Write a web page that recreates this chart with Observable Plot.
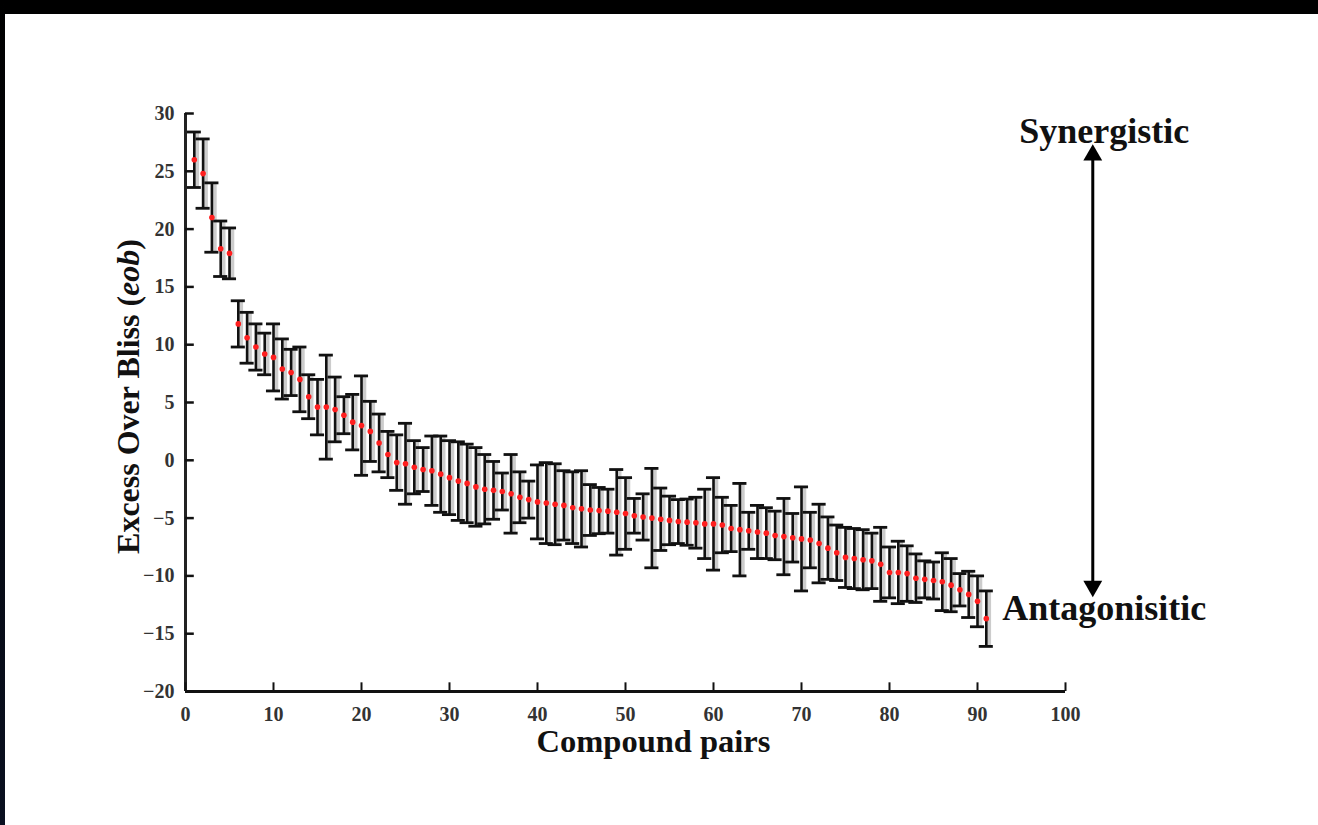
<!DOCTYPE html>
<html>
<head>
<meta charset="utf-8">
<script src="https://cdn.jsdelivr.net/npm/d3@7"></script>
<script src="https://cdn.jsdelivr.net/npm/@observablehq/plot@0.6"></script>
<style>
  html, body { margin: 0; padding: 0; background: #fff; }
  #wrap { position: relative; width: 1318px; height: 825px; overflow: hidden; background: #fff; }
  #topband { position: absolute; left: 0; top: 0; width: 1318px; height: 14px; background: #000; }
  #leftband { position: absolute; left: 0; top: 0; width: 5px; height: 825px; background: linear-gradient(#000, #0a1020); }
  #chart { position: absolute; left: 0; top: 0; }
</style>
</head>
<body>
<div id="wrap">
  <div id="chart"></div>
  <div id="topband"></div>
  <div id="leftband"></div>
</div>
<script>
// Compound pair index 1..91
const pairs = d3.range(1, 92);
// Mean excess over Bliss (eob) per pair
const eob = [26.0, 24.8, 21.0, 18.3, 17.9, 11.8, 10.6, 9.8, 9.2, 8.9,
  7.9, 7.6, 7.0, 5.5, 4.6, 4.6, 4.4, 3.9, 3.3, 3.0,
  2.5, 1.5, 0.5, -0.2, -0.3, -0.6, -0.8, -0.9, -1.2, -1.5,
  -1.8, -2.0, -2.3, -2.5, -2.6, -2.7, -2.9, -3.2, -3.4, -3.6,
  -3.7, -3.8, -3.9, -4.1, -4.2, -4.3, -4.35, -4.4, -4.5, -4.6,
  -4.8, -4.9, -5.0, -5.1, -5.2, -5.3, -5.35, -5.4, -5.5, -5.5,
  -5.6, -5.9, -6.0, -6.1, -6.2, -6.3, -6.5, -6.6, -6.7, -6.8,
  -6.9, -7.2, -7.6, -8.0, -8.4, -8.5, -8.6, -8.7, -9.0, -9.7,
  -9.7, -9.8, -10.2, -10.3, -10.4, -10.5, -10.8, -11.2, -11.6, -12.2,
  -13.7];
// Error (half-height of error bar)
const err = [2.4, 3.0, 3.0, 2.4, 2.2, 2.0, 2.2, 2.0, 1.8, 2.9,
  2.6, 2.0, 2.8, 1.9, 2.4, 4.5, 2.8, 1.6, 2.4, 4.3,
  2.6, 2.5, 2.0, 2.4, 3.5, 2.3, 1.9, 3.0, 3.3, 3.2,
  3.4, 3.4, 3.4, 3.0, 2.5, 1.6, 3.4, 2.2, 1.6, 3.2,
  3.5, 3.5, 3.0, 3.1, 3.3, 2.2, 2.0, 1.9, 3.7, 3.1,
  1.5, 2.0, 4.3, 2.7, 2.1, 1.9, 2.0, 2.2, 3.0, 4.0,
  2.4, 2.0, 4.0, 1.6, 2.3, 2.2, 2.1, 3.3, 2.1, 4.5,
  2.4, 3.4, 2.7, 2.4, 2.6, 2.6, 2.6, 2.4, 3.2, 2.2,
  2.7, 2.4, 2.1, 1.6, 1.6, 2.5, 2.3, 1.4, 2.0, 2.2,
  2.4];
const xTicks = [0, 10, 20, 30, 40, 50, 60, 70, 80, 90, 100];
const yTicks = [30, 25, 20, 15, 10, 5, 0, -5, -10, -15, -20];
const xLabel = "Compound pairs";
const yLabel = "Excess Over Bliss (eob)";
const topNote = "Synergistic";
const bottomNote = "Antagonisitic";

const data = pairs.map((p, i) => ({p, m: eob[i], lo: eob[i] - err[i], hi: eob[i] + err[i]}));

const serif = "'Liberation Serif', 'Times New Roman', serif";
const cap = 0.8;          // half cap width, in pair units
const arrowX = 103.1;
const arrowTop = 26.4, arrowBottom = -10.9;

const chart = Plot.plot({
  width: 1318,
  height: 825,
  marginLeft: 185,
  marginRight: 253,
  marginTop: 113,
  marginBottom: 134,
  style: {background: "#fff", fontFamily: serif},
  x: {type: "linear", domain: [0, 100], axis: null},
  y: {type: "linear", domain: [-20, 30], axis: null},
  marks: [
    // light gray band beside each error bar
    Plot.rect(data, {x1: d => d.p, x2: d => d.p + 0.6, y1: "lo", y2: "hi", fill: "#cccccc"}),
    // error bar stems
    Plot.ruleX(data, {x: "p", y1: "lo", y2: "hi", stroke: "#111", strokeWidth: 2.6}),
    // caps
    Plot.ruleY(data, {y: "hi", x1: d => d.p - cap, x2: d => d.p + cap, stroke: "#111", strokeWidth: 2.8}),
    Plot.ruleY(data, {y: "lo", x1: d => d.p - cap, x2: d => d.p + cap, stroke: "#111", strokeWidth: 2.8}),
    // means
    Plot.dot(data, {x: "p", y: "m", r: 2.8, fill: "#ff1f1f", stroke: "none"}),
    // axes lines
    Plot.ruleX([0], {y1: -20, y2: 30, stroke: "#222", strokeWidth: 3}),
    Plot.ruleY([-20], {x1: 0, x2: 100, stroke: "#111", strokeWidth: 3}),
    // inward ticks
    Plot.ruleY(yTicks, {x1: 0, x2: 1.0, stroke: "#111", strokeWidth: 2.5}),
    Plot.ruleX(xTicks, {y1: -20, y2: -19.25, stroke: "#111", strokeWidth: 2}),
    // tick labels
    Plot.text(yTicks, {x: 0, y: d => d, text: d => d < 0 ? "\u2212" + Math.abs(d) : String(d), textAnchor: "end", dx: -11, fontSize: 20, fontWeight: "bold", fill: "#333"}),
    Plot.text(xTicks, {x: d => d, y: -20, text: d => String(d), dy: 23, fontSize: 20, fontWeight: "bold", fill: "#333"}),
    // axis titles
    Plot.text([xLabel], {frameAnchor: "bottom", text: d => d, dx: 28, dy: 60, fontSize: 32.5, fontWeight: "bold", fill: "#111"}),
    Plot.text([yLabel], {frameAnchor: "left", text: d => d, textAnchor: "middle", dx: -57, dy: -6, rotate: -90, fontSize: 32, fontWeight: "bold", fill: "#111"}),
    // arrow annotation
    Plot.link([0], {x1: arrowX, x2: arrowX, y1: arrowTop, y2: arrowBottom, stroke: "#000", strokeWidth: 3}),
    Plot.dot([0], {x: arrowX, y: arrowTop, symbol: "triangle", r: 7, fill: "#000", stroke: "none"}),
    Plot.dot([0], {x: arrowX, y: arrowBottom, symbol: "triangle", r: 7, rotate: 180, fill: "#000", stroke: "none"}),
    Plot.text([topNote], {x: arrowX + 1.3, y: 28.45, text: d => d, fontSize: 36, fontWeight: "bold", fill: "#111"}),
    Plot.text([bottomNote], {x: arrowX + 1.3, y: -12.8, text: d => d, fontSize: 36, fontWeight: "bold", fill: "#111"})
  ]
});
document.getElementById("chart").appendChild(chart);
// italicise "eob"
d3.select(chart).selectAll("text").each(function() {
  if (this.textContent === yLabel) {
    this.innerHTML = 'Excess Over Bliss (<tspan font-style="italic">eob</tspan>)';
  }
});
</script>
</body>
</html>
